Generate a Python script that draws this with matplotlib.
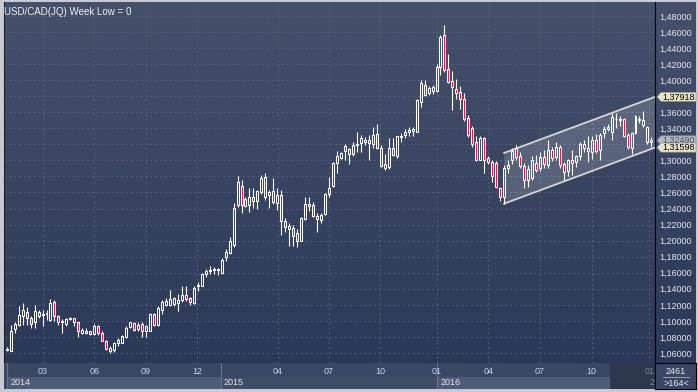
import matplotlib
matplotlib.use("Agg")
import matplotlib.pyplot as plt
import numpy as np
from matplotlib.colors import LinearSegmentedColormap
from matplotlib.patches import Rectangle, Polygon

plt.rcParams['font.family'] = ['Liberation Sans', 'DejaVu Sans']

# weekly USD/CAD candles (one per week, oldest first)
opens = [1.064, 1.063, 1.090, 1.095, 1.106, 1.111, 1.103, 1.098, 1.111, 1.107,
         1.108, 1.101, 1.123, 1.106, 1.098, 1.096, 1.102, 1.103, 1.098, 1.085,
         1.085, 1.087, 1.084, 1.094, 1.085, 1.075, 1.063, 1.064, 1.072, 1.073,
         1.080, 1.092, 1.097, 1.090, 1.096, 1.088, 1.088, 1.108, 1.095, 1.113,
         1.120, 1.120, 1.121, 1.122, 1.126, 1.132, 1.128, 1.122, 1.143, 1.144,
         1.158, 1.162, 1.163, 1.163, 1.160, 1.180, 1.184, 1.194, 1.244, 1.268,
         1.252, 1.245, 1.254, 1.249, 1.260, 1.279, 1.257, 1.262, 1.247, 1.257,
         1.224, 1.218, 1.216, 1.209, 1.200, 1.227, 1.243, 1.245, 1.231, 1.226,
         1.233, 1.258, 1.268, 1.297, 1.303, 1.318, 1.314, 1.308, 1.319, 1.322,
         1.323, 1.325, 1.320, 1.333, 1.316, 1.296, 1.292, 1.316, 1.305, 1.329,
         1.332, 1.336, 1.337, 1.336, 1.373, 1.394, 1.384, 1.387, 1.386, 1.417,
         1.456, 1.414, 1.399, 1.389, 1.385, 1.377, 1.353, 1.340, 1.323, 1.301,
         1.328, 1.303, 1.298, 1.297, 1.265, 1.255, 1.291, 1.300, 1.315, 1.305,
         1.293, 1.276, 1.278, 1.297, 1.290, 1.304, 1.294, 1.313, 1.304, 1.317,
         1.296, 1.287, 1.300, 1.298, 1.305, 1.320, 1.316, 1.311, 1.325, 1.313,
         1.334, 1.339, 1.336, 1.351, 1.350, 1.351, 1.332, 1.315, 1.334, 1.350,
         1.350, 1.342, 1.323]
highs = [1.067, 1.095, 1.098, 1.118, 1.122, 1.117, 1.106, 1.120, 1.114, 1.114,
         1.114, 1.127, 1.126, 1.107, 1.102, 1.104, 1.105, 1.104, 1.099, 1.091,
         1.091, 1.088, 1.096, 1.095, 1.087, 1.076, 1.069, 1.074, 1.079, 1.082,
         1.093, 1.099, 1.099, 1.098, 1.099, 1.095, 1.110, 1.110, 1.118, 1.126,
         1.128, 1.139, 1.130, 1.133, 1.143, 1.144, 1.130, 1.143, 1.148, 1.160,
         1.165, 1.168, 1.167, 1.166, 1.178, 1.189, 1.205, 1.247, 1.280, 1.276,
         1.254, 1.265, 1.265, 1.263, 1.282, 1.284, 1.263, 1.278, 1.266, 1.263,
         1.228, 1.222, 1.219, 1.214, 1.230, 1.254, 1.254, 1.248, 1.235, 1.235,
         1.259, 1.279, 1.298, 1.312, 1.311, 1.321, 1.316, 1.323, 1.336, 1.332,
         1.329, 1.332, 1.341, 1.345, 1.319, 1.308, 1.328, 1.328, 1.331, 1.334,
         1.339, 1.342, 1.342, 1.376, 1.400, 1.400, 1.393, 1.394, 1.420, 1.456,
         1.469, 1.433, 1.412, 1.401, 1.393, 1.384, 1.357, 1.343, 1.331, 1.330,
         1.329, 1.305, 1.300, 1.299, 1.267, 1.294, 1.300, 1.315, 1.319, 1.311,
         1.297, 1.294, 1.305, 1.307, 1.311, 1.313, 1.325, 1.317, 1.323, 1.319,
         1.298, 1.302, 1.313, 1.307, 1.323, 1.325, 1.330, 1.330, 1.333, 1.334,
         1.343, 1.345, 1.3595, 1.359, 1.355, 1.353, 1.334, 1.336, 1.357, 1.355,
         1.361, 1.343, 1.329]
lows = [1.062, 1.062, 1.085, 1.093, 1.095, 1.095, 1.091, 1.091, 1.103, 1.094,
        1.101, 1.100, 1.100, 1.095, 1.085, 1.093, 1.101, 1.094, 1.080, 1.084,
        1.084, 1.082, 1.082, 1.082, 1.075, 1.064, 1.060, 1.061, 1.069, 1.072,
        1.079, 1.091, 1.088, 1.087, 1.080, 1.080, 1.087, 1.094, 1.094, 1.108,
        1.118, 1.119, 1.119, 1.112, 1.124, 1.125, 1.120, 1.121, 1.137, 1.143,
        1.155, 1.158, 1.159, 1.157, 1.158, 1.174, 1.183, 1.192, 1.242, 1.234,
        1.242, 1.236, 1.241, 1.240, 1.258, 1.251, 1.241, 1.246, 1.238, 1.207,
        1.211, 1.193, 1.193, 1.192, 1.200, 1.226, 1.237, 1.229, 1.211, 1.222,
        1.232, 1.255, 1.267, 1.284, 1.302, 1.300, 1.296, 1.306, 1.311, 1.311,
        1.319, 1.300, 1.316, 1.314, 1.292, 1.288, 1.289, 1.305, 1.303, 1.323,
        1.328, 1.330, 1.331, 1.335, 1.366, 1.380, 1.381, 1.383, 1.385, 1.406,
        1.410, 1.396, 1.363, 1.376, 1.364, 1.349, 1.329, 1.317, 1.299, 1.300,
        1.284, 1.296, 1.273, 1.265, 1.249, 1.2461, 1.284, 1.296, 1.301, 1.291,
        1.266, 1.267, 1.276, 1.286, 1.287, 1.290, 1.290, 1.299, 1.300, 1.291,
        1.276, 1.280, 1.282, 1.292, 1.300, 1.311, 1.298, 1.302, 1.309, 1.300,
        1.328, 1.337, 1.325, 1.340, 1.343, 1.329, 1.314, 1.308, 1.333, 1.347,
        1.342, 1.321, 1.317]
closes = [1.065, 1.088, 1.096, 1.107, 1.113, 1.103, 1.096, 1.112, 1.106, 1.109,
          1.110, 1.122, 1.106, 1.098, 1.100, 1.102, 1.104, 1.098, 1.088, 1.089,
          1.087, 1.084, 1.094, 1.085, 1.075, 1.065, 1.066, 1.073, 1.076, 1.081,
          1.091, 1.098, 1.089, 1.095, 1.087, 1.093, 1.108, 1.095, 1.116, 1.123,
          1.125, 1.127, 1.128, 1.126, 1.132, 1.127, 1.123, 1.141, 1.145, 1.158,
          1.162, 1.164, 1.164, 1.164, 1.176, 1.186, 1.199, 1.241, 1.273, 1.244,
          1.243, 1.254, 1.250, 1.262, 1.278, 1.254, 1.261, 1.248, 1.257, 1.224,
          1.217, 1.214, 1.206, 1.200, 1.228, 1.246, 1.246, 1.231, 1.227, 1.232,
          1.258, 1.266, 1.297, 1.305, 1.309, 1.312, 1.308, 1.319, 1.321, 1.328,
          1.326, 1.322, 1.332, 1.315, 1.293, 1.290, 1.316, 1.307, 1.330, 1.331,
          1.336, 1.338, 1.339, 1.375, 1.396, 1.382, 1.390, 1.391, 1.417, 1.454,
          1.413, 1.398, 1.391, 1.384, 1.376, 1.351, 1.332, 1.320, 1.301, 1.328,
          1.300, 1.298, 1.280, 1.267, 1.255, 1.290, 1.294, 1.312, 1.304, 1.293,
          1.276, 1.289, 1.300, 1.288, 1.304, 1.296, 1.313, 1.303, 1.317, 1.294,
          1.286, 1.300, 1.297, 1.305, 1.320, 1.316, 1.312, 1.325, 1.312, 1.332,
          1.339, 1.342, 1.354, 1.352, 1.352, 1.330, 1.317, 1.334, 1.355, 1.352,
          1.344, 1.323, 1.3249]

price_ticks = [1.06, 1.08, 1.10, 1.12, 1.14, 1.16, 1.18, 1.20, 1.22, 1.24, 1.26,
               1.28, 1.30, 1.32, 1.34, 1.36, 1.38, 1.40, 1.42, 1.44, 1.46, 1.48]
hidden_ticks = [1.32, 1.38]   # covered by the price tags in the original
month_labels = ['03', '06', '09', '12', '04', '07', '10', '01', '04', '07', '10', '01']
month_pos = [9.05, 22.0, 34.9, 47.9, 68.2, 81.0, 93.8, 108.0, 121.0, 134.0, 147.0, 161.5]
year_labels = ['2014', '2015', '2016', '2']   # last one is cut off by the scale
year_pos = [0.05, 53.8, 108.1, 160.7]
shade_from = 151.6

# drawn channel: start bar, then (start, right edge) values of both lines
chan_start = 125
chan_low = [1.2461, 1.31598]
chan_high = [1.3093, 1.37918]
last_price = 1.32490
low_text = '2461'
bars_text = '>164<'

W, H = 698, 392
fig = plt.figure(figsize=(W / 100, H / 100), dpi=100)
fig.patch.set_facecolor('#c6cad2')


def px_axes(x0, y0, x1, y1):
    # box in pixels, origin top-left
    return fig.add_axes([x0 / W, 1 - y1 / H, (x1 - x0) / W, (y1 - y0) / H])


xlim = (-0.68, 162.9)
ylim = (1.0475, 1.4974)

# background gradient behind plot and price scale
bg = px_axes(4, 2, 696, 363)
cmap = LinearSegmentedColormap.from_list('bg', ['#2b3857', '#45516b'])
bg.imshow(np.linspace(0, 1, 200).reshape(-1, 1), cmap=cmap, aspect='auto',
          origin='lower', extent=[0, 1, 0, 1])
bg.axis('off')

ax = px_axes(4, 2, 655, 363)
ax.set_facecolor('none')
ax.set_xlim(*xlim)
ax.set_ylim(*ylim)

# grid
for p in price_ticks:
    ax.axhline(p, color='#56627c', lw=0.7, ls=(0, (2, 3)), zorder=0.5)
for m in month_pos:
    ax.axvline(m, color='#56627c', lw=0.7, ls=(0, (2, 3)), zorder=0.5)

# channel
xr = xlim[1]
ax.add_patch(Polygon([(chan_start, chan_low[0]), (xr, chan_low[1]),
                      (xr, chan_high[1]), (chan_start, chan_high[0])],
                     closed=True, facecolor='white', alpha=0.16, lw=0, zorder=1))
ax.plot([chan_start, xr], chan_low, color='#d6d6d6', lw=1.3, zorder=1.2)
ax.plot([chan_start, xr], chan_high, color='#d6d6d6', lw=1.3, zorder=1.2)

# candles
for i in range(len(closes)):
    o, h, l, c = opens[i], highs[i], lows[i], closes[i]
    lo, hi = min(o, c), max(o, c)
    if hi - lo < 0.0012:
        hi = lo + 0.0012
    ax.vlines(i, l, lo, color='white', lw=0.8, zorder=2)
    ax.vlines(i, hi, h, color='white', lw=0.8, zorder=2)
    face = '#e0143c' if c < o else 'none'
    ax.add_patch(Rectangle((i - 0.25, lo), 0.5, hi - lo, facecolor=face,
                           edgecolor='white', lw=0.75, zorder=3))

ax.set_xticks([])
ax.yaxis.tick_right()
ax.set_yticks(price_ticks)
ax.set_yticklabels(['' if any(abs(p - q) < 1e-6 for q in hidden_ticks)
                    else f'{p:.5f}'.replace('.', ',') for p in price_ticks])
ax.tick_params(axis='y', length=0, pad=3, labelsize=6.5, labelcolor='#e4e8ee')
ax.spines['top'].set_visible(False)
ax.spines['left'].set_color('#1a2030')
ax.spines['right'].set_color('black')
ax.spines['bottom'].set_color('black')

ax.text(0.0, 0.987, 'USD/CAD(JQ) Week Low = 0', transform=ax.transAxes,
        color='#eef0f4', fontsize=7, ha='left', va='top')

# price tags on the scale
axr = px_axes(655, 2, 698, 363)
axr.set_xlim(0, 43)
axr.set_ylim(*ylim)
axr.axis('off')
hh = 4.6 * (ylim[1] - ylim[0]) / 361


def tag(p, txt, face, tcol):
    axr.add_patch(Polygon([(2, p), (6, p + hh), (41, p + hh), (41, p - hh), (6, p - hh)],
                          closed=True, facecolor=face, edgecolor='#8a8c90', lw=0.5))
    axr.text(23.5, p, txt, ha='center', va='center', fontsize=6.5, color=tcol)


tag(last_price, f'{last_price:.5f}'.replace('.', ','), '#b4b8c0', '#50545c')
tag(chan_high[1], f'{chan_high[1]:.5f}'.replace('.', ','), '#e9e5c9', 'black')
tag(chan_low[1], f'{chan_low[1]:.5f}'.replace('.', ','), '#e9e5c9', 'black')

# time axis
axb = px_axes(4, 363, 655, 389)
axb.set_xlim(*xlim)
axb.set_ylim(0, 1)
axb.axis('off')
split = 12 / 26
axb.add_patch(Rectangle((xlim[0], 0), xlim[1] - xlim[0], 1, facecolor='#3a4762', lw=0))
year_edges = year_pos[:3] + [shade_from]
for k in range(3):
    col = '#4f5c77' if k % 2 == 0 else '#404d67'
    axb.add_patch(Rectangle((year_edges[k], 0), year_edges[k + 1] - year_edges[k], split,
                            facecolor=col, lw=0))
    axb.axvline(year_edges[k], color='#68748c', lw=0.8)
axb.add_patch(Rectangle((shade_from, 0), xlim[1] - shade_from, 1, facecolor='#2b374f', lw=0))
for m, lab in zip(month_pos, month_labels):
    col = '#7c869a' if m > shade_from else '#c4d6ee'
    axb.text(m, 0.665, lab, ha='center', va='center', fontsize=6.5, color=col)
for yp, lab in zip(year_pos, year_labels):
    col = '#7c869a' if yp > shade_from else '#e2e6ec'
    axb.text(yp + 0.8, 0.26, lab, ha='left', va='center', fontsize=6.5, color=col)

# corner box
axc = px_axes(655, 363, 696, 389)
axc.set_xlim(0, 41)
axc.set_ylim(0, 26)
axc.set_facecolor('#3a4762')
axc.set_xticks([])
axc.set_yticks([])
for s in axc.spines.values():
    s.set_color('black')
    s.set_linewidth(0.8)
axc.text(21, 18, low_text, ha='center', va='center', fontsize=6.5, color='#e8ecf2')
axc.plot([8, 34], [12, 12], color='#9aa2b2', lw=0.7)
axc.text(21, 6, bars_text, ha='center', va='center', fontsize=6.5, color='#e8ecf2')

fig.savefig('out.png', dpi=100, facecolor=fig.get_facecolor())
